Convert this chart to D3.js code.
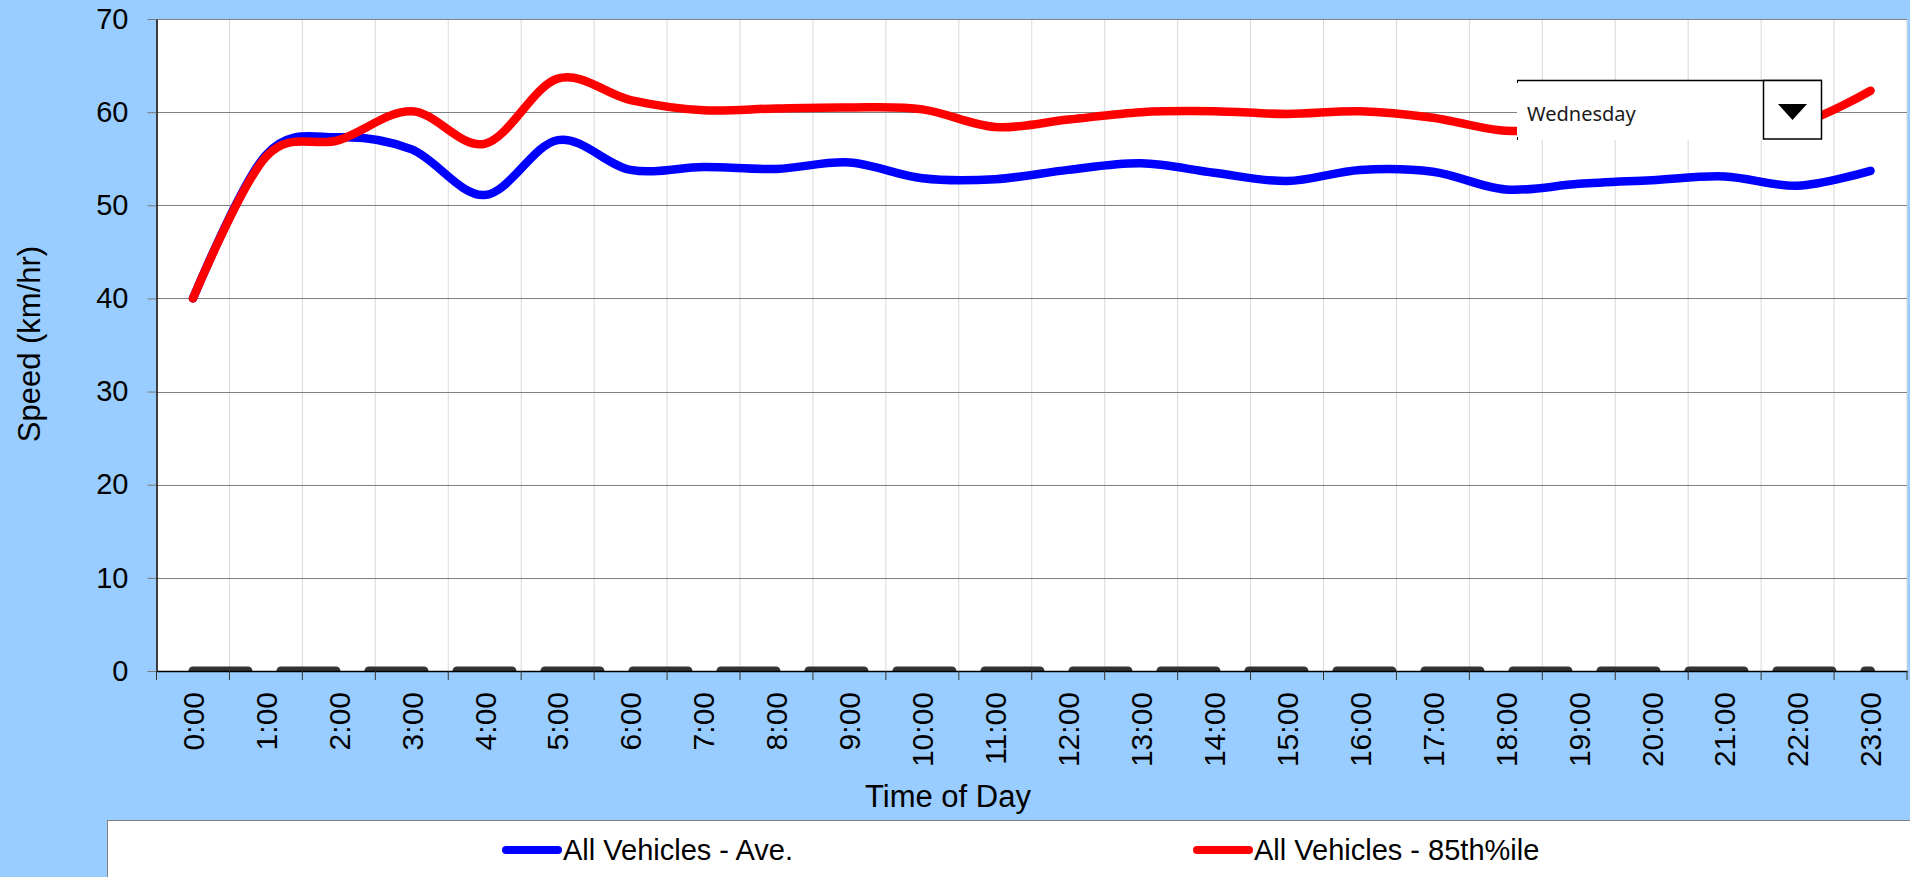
<!DOCTYPE html>
<html>
<head>
<meta charset="utf-8">
<script src="https://cdn.jsdelivr.net/npm/d3@7"></script>
<style>
html, body { margin: 0; padding: 0; background: #99ccff; overflow: hidden; }
svg { display: block; }
</style>
</head>
<body>
<script>
// hourly values
let hours = ['0:00','1:00','2:00','3:00','4:00','5:00','6:00','7:00','8:00','9:00','10:00','11:00',
    '12:00','13:00','14:00','15:00','16:00','17:00','18:00','19:00','20:00','21:00','22:00','23:00'];
let aveSpeed = [40.0,55.4,57.3,56.0,51.1,57.0,53.8,54.1,53.9,54.6,52.9,52.8,
    53.8,54.5,53.5,52.6,53.8,53.6,51.7,52.3,52.7,53.1,52.1,53.7];
let pct85Speed = [40.0,55.2,57.0,60.1,56.6,63.6,61.3,60.2,60.4,60.5,60.3,58.4,
    59.2,60.0,60.1,59.8,60.1,59.4,58.0,58.6,59.0,59.3,58.8,62.3];
let zeroSeries = [0,0,0,0,0,0,0,0,0,0,0,0,0,0,0,0,0,0,0,0,0,0,0,0];
let yTicks = [0,10,20,30,40,50,60,70];
let seriesNames = ['All Vehicles - Ave.', 'All Vehicles - 85th%ile'];
let seriesColors = ['#0000ff', '#ff0000'];
let dayName = 'Wednesday';

let width = 1910, height = 877;
let plot = {left: 156.5, right: 1907, top: 19, bottom: 671};
let font = 'Arial, "Liberation Sans", sans-serif';

let svg = d3.select('body').append('svg')
    .attr('width', width)
    .attr('height', height);

svg.append('rect').attr('width', width).attr('height', height).attr('fill', '#99ccff');

let x = d3.scaleBand().domain(hours).range([plot.left, plot.right]);
let y = d3.scaleLinear().domain([0, 70]).range([plot.bottom, plot.top]);
let cx = (h) => x(h) + x.bandwidth() / 2;

// plot area
svg.append('rect')
    .attr('x', plot.left).attr('y', plot.top)
    .attr('width', plot.right - plot.left).attr('height', plot.bottom - plot.top)
    .attr('fill', '#fff');

svg.append('clipPath').attr('id', 'plotclip')
    .append('rect')
    .attr('x', plot.left).attr('y', plot.top)
    .attr('width', plot.right - plot.left).attr('height', plot.bottom - plot.top);

let bounds = hours.map((h) => x(h)).concat([plot.right]);

// vertical grid at category boundaries
svg.append('g').selectAll('line')
    .data(bounds.slice(1))
    .join('line')
    .attr('x1', (d) => d).attr('x2', (d) => d)
    .attr('y1', plot.top).attr('y2', plot.bottom)
    .attr('stroke', '#d9d9d9').attr('stroke-width', 1);

// horizontal grid
svg.append('g').selectAll('line')
    .data(yTicks.filter((v) => v > 0))
    .join('line')
    .attr('x1', plot.left).attr('x2', plot.right)
    .attr('y1', (d) => Math.round(y(d)) + 0.5).attr('y2', (d) => Math.round(y(d)) + 0.5)
    .attr('stroke', '#808080').attr('stroke-width', 1);

let series = svg.append('g').attr('clip-path', 'url(#plotclip)');

// flat zero series, dashed
let flatLine = d3.line().x((d, i) => cx(hours[i])).y((d) => y(d));
series.append('path')
    .attr('d', flatLine(zeroSeries))
    .attr('fill', 'none')
    .attr('stroke', '#333')
    .attr('stroke-width', 9)
    .attr('stroke-linecap', 'round')
    .attr('stroke-dasharray', '55 33');

let smoothLine = d3.line()
    .x((d, i) => cx(hours[i]))
    .y((d) => y(d))
    .curve(d3.curveCardinal.tension(0));

[aveSpeed, pct85Speed].forEach((vals, k) => {
    series.append('path')
        .attr('d', smoothLine(vals))
        .attr('fill', 'none')
        .attr('stroke', seriesColors[k])
        .attr('stroke-width', 8.5)
        .attr('stroke-linecap', 'round')
        .attr('stroke-linejoin', 'round');
});

// y axis
let yAxis = d3.axisLeft(y).tickValues(yTicks).tickSize(9).tickSizeOuter(0).tickPadding(19);
let gy = svg.append('g')
    .attr('transform', `translate(${plot.left},0)`)
    .call(yAxis)
    .attr('font-family', font).attr('font-size', 29);
gy.select('.domain').attr('stroke', '#000').attr('stroke-width', 1.5);
gy.selectAll('.tick line').attr('stroke', '#7a7a7a');
gy.selectAll('.tick text').attr('fill', '#000');

// x axis: labels at band centres, ticks at boundaries
let xAxis = d3.axisBottom(x).tickSize(0).tickSizeOuter(0);
let gx = svg.append('g')
    .attr('transform', `translate(0,${plot.bottom})`)
    .call(xAxis)
    .attr('font-family', font).attr('font-size', 30);
gx.select('.domain').attr('stroke', '#000').attr('stroke-width', 1.5);
gx.selectAll('.tick text')
    .attr('fill', '#000')
    .attr('transform', 'rotate(-90)')
    .attr('x', -21).attr('y', 0).attr('dy', '0.36em')
    .attr('text-anchor', 'end');

svg.append('g').selectAll('line')
    .data(bounds)
    .join('line')
    .attr('x1', (d) => d).attr('x2', (d) => d)
    .attr('y1', plot.bottom).attr('y2', plot.bottom + 9)
    .attr('stroke', '#333').attr('stroke-width', 1);

// axis titles
svg.append('text')
    .attr('transform', 'translate(40,344) rotate(-90)')
    .attr('text-anchor', 'middle')
    .attr('font-family', font).attr('font-size', 31)
    .text('Speed (km/hr)');

svg.append('text')
    .attr('x', 948).attr('y', 807)
    .attr('text-anchor', 'middle')
    .attr('font-family', font).attr('font-size', 31)
    .text('Time of Day');

// legend
svg.append('rect')
    .attr('x', 107.5).attr('y', 820.5)
    .attr('width', 1900).attr('height', 100)
    .attr('fill', '#fff').attr('stroke', '#808080');

let legendX = [506, 1197];
seriesNames.forEach((name, k) => {
    let g = svg.append('g').attr('transform', `translate(${legendX[k]},850)`);
    g.append('line')
        .attr('x1', 0).attr('x2', 52)
        .attr('stroke', seriesColors[k]).attr('stroke-width', 8)
        .attr('stroke-linecap', 'round');
    g.append('text')
        .attr('x', 57).attr('y', 10)
        .attr('font-family', font).attr('font-size', 29)
        .text(name);
});

// day selector control sitting on the chart
let dd = svg.append('g').attr('transform', 'translate(1517,80)');
dd.append('rect').attr('width', 305).attr('height', 60).attr('fill', '#fff');
dd.append('line').attr('x1', 0).attr('x2', 305).attr('y1', 0.5).attr('y2', 0.5)
    .attr('stroke', '#000').attr('stroke-width', 1.5);
dd.append('line').attr('x1', 0.5).attr('x2', 0.5).attr('y1', 0).attr('y2', 3).attr('stroke', '#000');
dd.append('line').attr('x1', 0.5).attr('x2', 0.5).attr('y1', 57).attr('y2', 60).attr('stroke', '#000');
dd.append('rect')
    .attr('x', 246.5).attr('y', 0.5).attr('width', 58).attr('height', 58.5)
    .attr('fill', '#fff').attr('stroke', '#000').attr('stroke-width', 1.5);
dd.append('path')
    .attr('d', 'M261,24 L290,24 L275.5,40 Z')
    .attr('fill', '#000');
dd.append('text')
    .attr('x', 10).attr('y', 41)
    .attr('font-family', '"Noto Sans", "Open Sans", sans-serif').attr('font-size', 20)
    .attr('fill', '#1a1a1a')
    .text(dayName);
</script>
</body>
</html>
